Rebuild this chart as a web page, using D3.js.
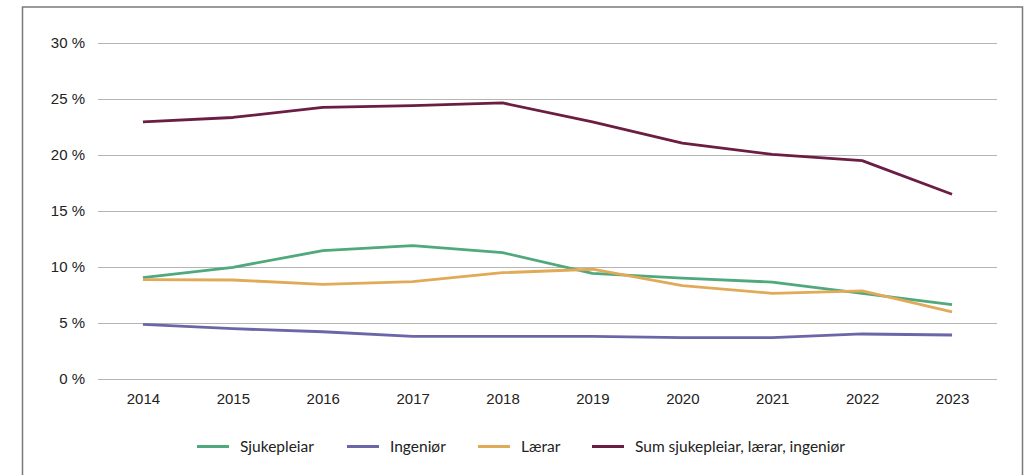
<!DOCTYPE html>
<html><head><meta charset="utf-8">
<script src="https://cdn.jsdelivr.net/npm/d3@7"></script>
<style>
body{margin:0;background:#fff;}
svg{display:block;font-family:Lato,"Open Sans",sans-serif;}
</style></head>
<body><svg id="c" width="1030" height="475"></svg>
<script>
const years = ["2014","2015","2016","2017","2018","2019","2020","2021","2022","2023"];
const sjukepleiar = [9.05, 9.97, 11.46, 11.9, 11.28, 9.43, 9.0, 8.65, 7.65, 6.65];
const ingenior = [4.88, 4.49, 4.22, 3.81, 3.81, 3.81, 3.69, 3.69, 4.02, 3.93];
const laerar = [8.87, 8.84, 8.45, 8.69, 9.49, 9.8, 8.33, 7.65, 7.86, 6.0];
const sum = [22.95, 23.35, 24.25, 24.4, 24.65, 22.95, 21.07, 20.05, 19.5, 16.5];
const yTicks = [0, 5, 10, 15, 20, 25, 30];
const seriesNames = ["Sjukepleiar", "Ingeniør", "Lærar", "Sum sjukepleiar, lærar, ingeniør"];
const seriesColors = ["#4fa97c", "#6a66a8", "#e1aa58", "#6b1d44"];
const seriesValues = [sjukepleiar, ingenior, laerar, sum];

const svg = d3.select("#c");
svg.append("rect").attr("x", 22.5).attr("y", 7).attr("width", 1000).attr("height", 480)
  .attr("fill", "none").attr("stroke", "#7a7a7a").attr("stroke-width", 1.5);

const x = d3.scalePoint().domain(years).range([98, 997]).padding(0.5);
const y = d3.scaleLinear().domain([0, 30]).range([379, 43]);

const yAxis = d3.axisLeft(y).tickValues(yTicks).tickSize(-(997 - 98)).tickFormat(d => d + " %").tickPadding(13);
const gy = svg.append("g").attr("transform", "translate(98,0)").call(yAxis);
gy.select(".domain").remove();
gy.selectAll(".tick line").attr("stroke", "#b5b5b5").attr("stroke-width", 1.2);
gy.selectAll(".tick text").attr("fill", "#222").style("font-size", "15px").attr("x", -13);

const xAxis = d3.axisBottom(x).tickSize(0).tickPadding(14);
const gx = svg.append("g").attr("transform", "translate(0,379)").call(xAxis);
gx.select(".domain").remove();
gx.selectAll(".tick text").attr("fill", "#222").style("font-size", "15px");

const line = d3.line().x((d, i) => x(years[i])).y(d => y(d));
seriesValues.forEach((vals, k) => {
  svg.append("path").datum(vals).attr("d", line).attr("fill", "none")
    .attr("stroke", seriesColors[k]).attr("stroke-width", 2.8).attr("stroke-linejoin", "round");
});

const legendX = [197, 347, 478, 592];
const lg = svg.append("g");
seriesNames.forEach((n, k) => {
  lg.append("line").attr("x1", legendX[k]).attr("x2", legendX[k] + 32).attr("y1", 446.5).attr("y2", 446.5)
    .attr("stroke", seriesColors[k]).attr("stroke-width", 3);
  lg.append("text").attr("x", legendX[k] + 43).attr("y", 446.5).attr("dy", "0.35em")
    .attr("fill", "#222").style("font-size", "15.5px").text(n);
});
</script></body></html>
